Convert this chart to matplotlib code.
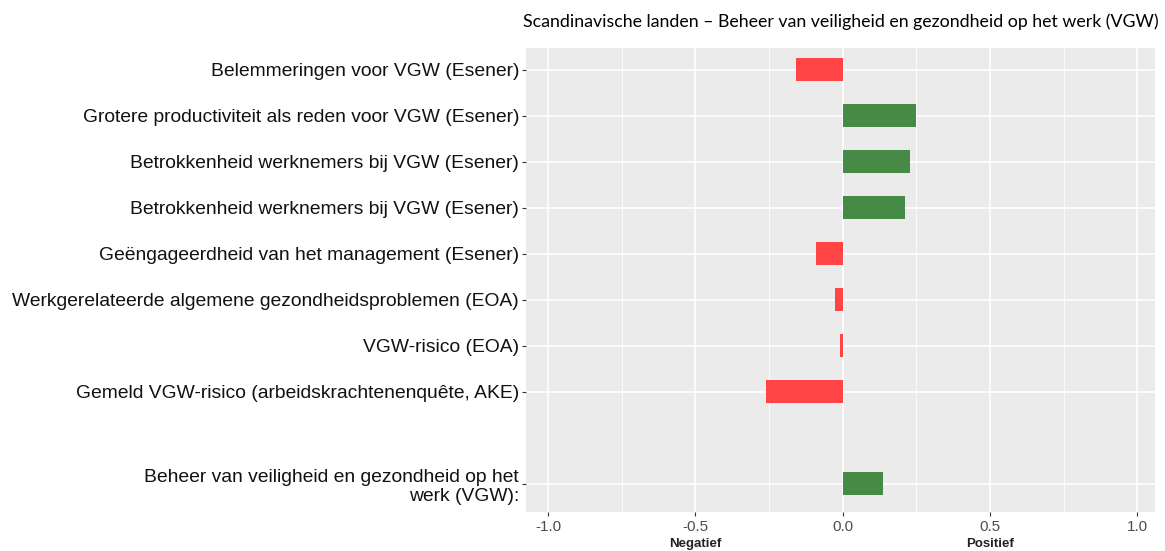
import matplotlib
matplotlib.use("Agg")
import matplotlib.pyplot as plt
from matplotlib.ticker import MultipleLocator

labels = [
    "Belemmeringen voor VGW (Esener)",
    "Grotere productiviteit als reden voor VGW (Esener)",
    "Betrokkenheid werknemers bij VGW (Esener)",
    "Betrokkenheid werknemers bij VGW (Esener)",
    "Geëngageerdheid van het management (Esener)",
    "Werkgerelateerde algemene gezondheidsproblemen (EOA)",
    "VGW-risico (EOA)",
    "Gemeld VGW-risico (arbeidskrachtenenquête, AKE)",
    "Beheer van veiligheid en gezondheid op het\nwerk (VGW):",
]
values = [-0.16, 0.248, 0.228, 0.21, -0.092, -0.027, -0.01, -0.26, 0.136]
# row slots from top; slot 8 is left empty
rows = [0, 1, 2, 3, 4, 5, 6, 7, 9]

title = "Scandinavische landen – Beheer van veiligheid en gezondheid op het werk (VGW)"
x_ticks = [-1.0, -0.5, 0.0, 0.5, 1.0]

red = "#ff4545"
green = "#468a46"

fig = plt.figure(figsize=(11.65, 5.51), dpi=100)
ax = fig.add_axes([526 / 1165, 1 - 512 / 551, (1155 - 526) / 1165, (512 - 48) / 551])
ax.set_facecolor("#ebebeb")
for s in ax.spines.values():
    s.set_visible(False)

colors = [green if v > 0 else red for v in values]
ax.barh(rows, values, height=0.5, color=colors, zorder=3)

ax.set_xlim(-1.075, 1.06)
ax.set_ylim(9.61, -0.478)
ax.set_xticks(x_ticks)
ax.set_xticklabels([f"{t:.1f}" for t in x_ticks])
ax.xaxis.set_minor_locator(MultipleLocator(0.25))
ax.set_yticks(rows)
ax.set_yticklabels(labels, family="Liberation Sans", fontsize=13.9, color="#111111",
                   linespacing=1.15)
for lbl in ax.get_yticklabels():
    lbl.set_horizontalalignment("right")

ax.grid(True, which="major", color="white", linewidth=1.2, zorder=0)
ax.grid(True, which="minor", axis="x", color="white", linewidth=0.6, zorder=0)
ax.set_axisbelow(True)
ax.tick_params(axis="x", which="major", length=3, color="#333333", labelsize=11,
               labelcolor="#4d4d4d", pad=3)
ax.tick_params(axis="x", which="minor", length=0)
ax.tick_params(axis="y", length=3, color="#333333", pad=2)
for lbl in ax.get_xticklabels():
    lbl.set_family("Liberation Sans")

ax.text(-0.5, -0.055, "Negatief", transform=ax.get_xaxis_transform(), ha="center",
        va="top", fontsize=9.5, family="Liberation Sans", fontweight="bold", color="#222222")
ax.text(0.5, -0.055, "Positief", transform=ax.get_xaxis_transform(), ha="center",
        va="top", fontsize=9.5, family="Liberation Sans", fontweight="bold", color="#222222")

fig.text((526 + 1155) / 2 / 1165, 1 - 22 / 551, title, ha="center", va="center",
         family="Lato", fontsize=12.8, color="black")

fig.savefig("out.png", dpi=100)
